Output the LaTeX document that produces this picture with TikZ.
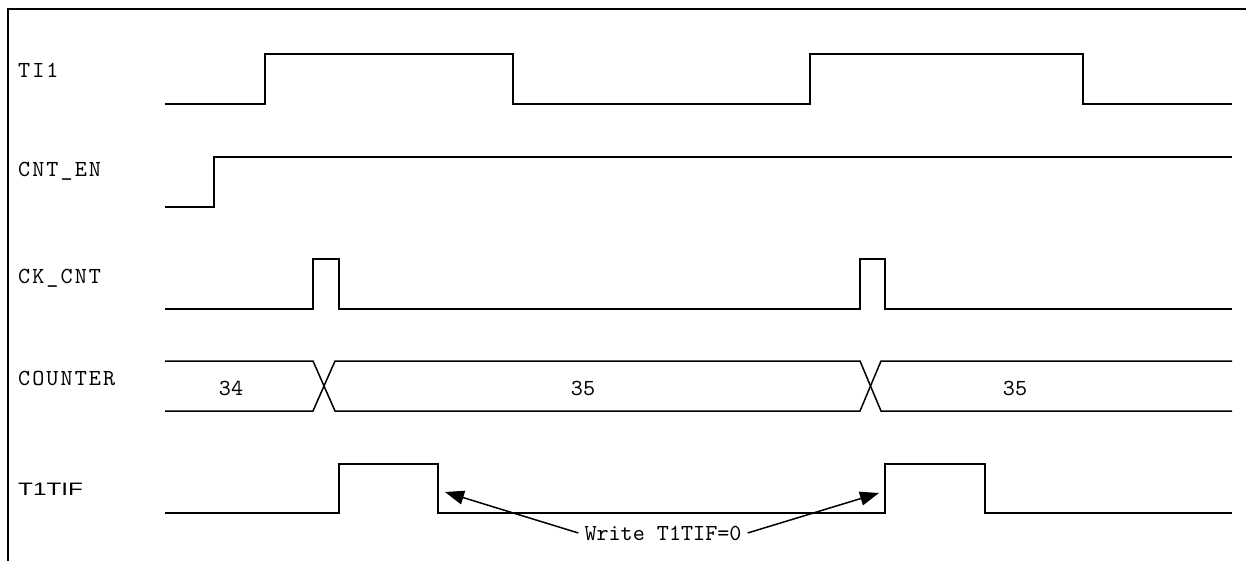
\documentclass[tikz,border=0pt]{standalone}
\usepackage{fontspec}
\newfontfamily\flagfont{Liberation Sans}
\newfontfamily\sigfont[LetterSpace=9]{lmmono10-regular.otf}
\newfontfamily\valfont{lmmono10-regular.otf}
\usetikzlibrary{arrows.meta, positioning}

\begin{document}
\begin{tikzpicture}[x=1pt, y=-1pt,
  sig/.style={line width=1.5pt, line join=miter},
  frame/.style={line width=1.4pt},
  signame/.style={font=\fontsize{23}{25}\selectfont\sigfont, anchor=base west, inner sep=0pt},
  val/.style={font=\fontsize{23}{25}\selectfont\valfont, anchor=base, inner sep=0pt},
  arr/.style={-{Triangle[length=19pt, width=14pt]}, line width=1.5pt}
]
\useasboundingbox (0,0) rectangle (1246,561);
\draw[frame] (8,561) -- (8,9) -- (1246,9);

% signal names
\node[signame] (nti) at (18,78) {TI1};
\node[signame] (nen) at (18,177) {CNT\_EN};
\node[signame] (nck) at (18,283) {CK\_CNT};
\node[signame] (ncnt) at (18,385) {COUNTER};
\node[signame, font=\fontsize{18}{20}\selectfont\flagfont] (nflag) at (18,495)
  {\scalebox{1.35}[1]{T1TIF}};

% waveforms
\draw[sig] (165,104) -- (265,104) -- (265,54) -- (513,54) -- (513,104)
  -- (810,104) -- (810,54) -- (1083,54) -- (1083,104) -- (1232,104);
\draw[sig] (165,207) -- (214,207) -- (214,157) -- (1232,157);
\draw[sig] (165,309) -- (313,309) -- (313,259) -- (339,259) -- (339,309)
  -- (860,309) -- (860,259) -- (885,259) -- (885,309) -- (1232,309);
\draw[sig] (165,361) -- (313,361) -- (335,411) -- (860,411) -- (881,361) -- (1232,361);
\draw[sig] (165,411) -- (313,411) -- (335,361) -- (860,361) -- (881,411) -- (1232,411);
\draw[sig] (165,513) -- (339,513) -- (339,464) -- (438,464) -- (438,513)
  -- (885,513) -- (885,464) -- (985,464) -- (985,513) -- (1232,513);

\node[val] (v34) at (231,395) {34};
\node[val] (v35a) at (583,395) {35};
\node[val] (v35b) at (1015,395) {35};

% write markers
\node[val, inner xsep=6pt] (wlbl) at (663,540) {Write T1TIF=0};
\coordinate (clrA) at (445,492);
\coordinate (clrB) at (879,493);
\draw[arr] (wlbl.west) -- (clrA);
\draw[arr] (wlbl.east) -- (clrB);
\end{tikzpicture}
\end{document}
